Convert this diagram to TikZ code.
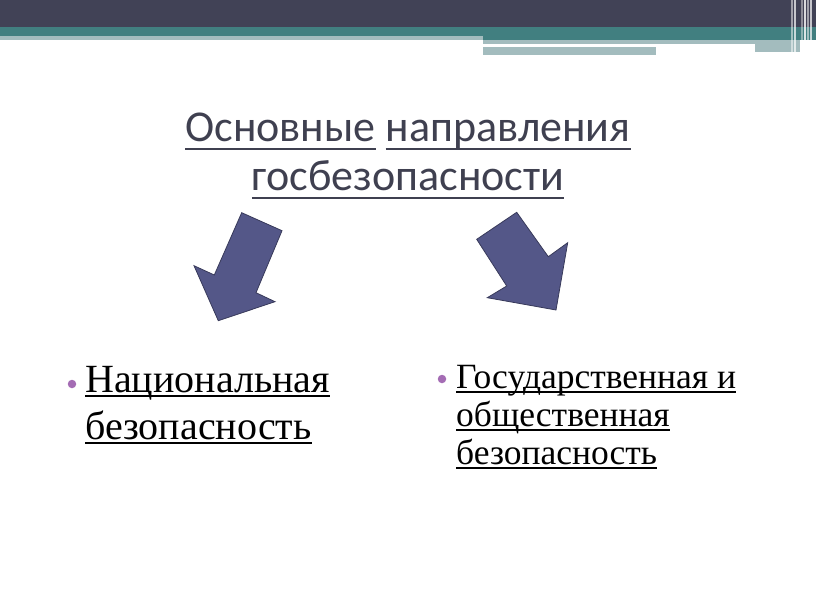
\documentclass[tikz,border=0pt]{standalone}
\usepackage{fontspec}
\setmainfont{Liberation Serif}
\newfontfamily\titlefont{Carlito}
\usetikzlibrary{backgrounds}

% underline at a fixed depth below the baseline
\newlength\ulthick \setlength\ulthick{1.8pt}
\newcommand\uldrop{0.12}
\newcommand\ulword[1]{\leavevmode\setbox0\hbox{#1}%
  \rlap{\rule[-\uldrop em]{\wd0}{\ulthick}}\box0\relax}

\definecolor{bardark}{HTML}{414256}
\definecolor{barteal}{HTML}{417F80}
\definecolor{barlight}{HTML}{A3BCBE}
\definecolor{arrowfill}{HTML}{545788}
\definecolor{arrowedge}{HTML}{383A5A}
\definecolor{titlegrey}{HTML}{3F4050}
\definecolor{bulletpurple}{HTML}{A46CB4}

\tikzset{
  heading/.style={align=center, text=titlegrey, inner sep=0,
    font=\titlefont\fontsize{44}{49}\selectfont\setlength\ulthick{2.4pt}\renewcommand\uldrop{0.2}},
  itemtext/.style={align=left, anchor=north west, inner sep=0},
  bulletdot/.style={circle, fill=bulletpurple, inner sep=0, minimum size=8.5pt},
  blockarrow/.style={fill=arrowfill, draw=arrowedge, line width=0.8pt, line join=miter}
}

\begin{document}
\begin{tikzpicture}[x=1pt,y=-1pt]
      \useasboundingbox (0,0) rectangle (816,613);
      %\draw [help lines, step=50] (0,0) grid (816,613);
      % header band
      \fill [bardark] (0,0) rectangle (816,27);
      \fill [barteal] (0,27) rectangle (816,36);
      \fill [barteal] (483,36) rectangle (816,40);
      \fill [barlight] (0,36) rectangle (483,40);
      \fill [barlight] (483,40) rectangle (800,44);
      \fill [barlight] (483,47) rectangle (656,55);
      \fill [barlight] (755,44) rectangle (800,52);
      \foreach \x/\o in {792/0.5,795/0.7,802/0.4,805/0.8,808/0.5,811/0.7}
        \draw [white, opacity=\o, line width=1.2pt] (\x,0) -- (\x,56);

      \node [heading] (title) at (408,156)
        {\ulword{Основные} \ulword{направления}\\\ulword{госбезопасности}};

      % the two arrows
      \filldraw [blockarrow] (241.7,212.7) -- (282,230.7) -- (256,292.7)
        -- (275,301.7) -- (218.3,320.7) -- (194,265.7) -- (214.3,275) -- cycle;
      \filldraw [blockarrow] (476.7,239.3) -- (516.7,212.3) -- (548.3,256.7)
        -- (567.7,242.7) -- (556,310) -- (487.3,297.7) -- (506.7,286) -- cycle;

      \node [bulletdot] (dotleft) at (72,384) {};
      \node [itemtext, font=\fontsize{40}{47}\selectfont] (national) at (85,366)
        {\ulword{Национальная}\\\ulword{безопасность}};
      \node [bulletdot] (dotright) at (442,379) {};
      \node [itemtext, font=\fontsize{35.5}{38}\selectfont] (public) at (456,365)
        {\ulword{Государственная и}\\\ulword{общественная}\\\ulword{безопасность}};
\end{tikzpicture}
\end{document}
